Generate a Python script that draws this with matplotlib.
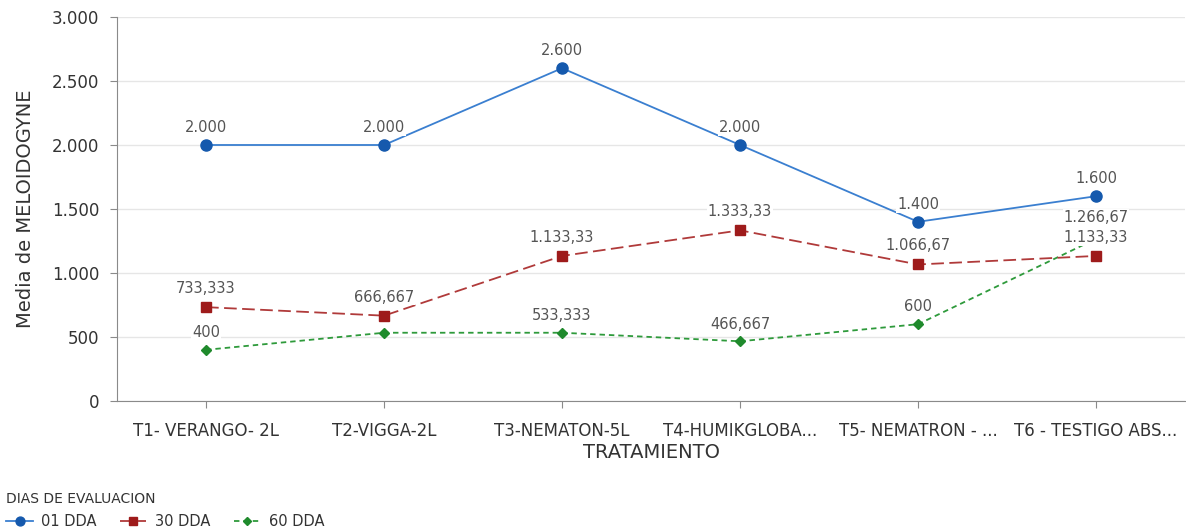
import matplotlib.pyplot as plt
import numpy as np

# chart data
categories = ["T1- VERANGO- 2L", "T2-VIGGA-2L", "T3-NEMATON-5L",
              "T4-HUMIKGLOBA...", "T5- NEMATRON - ...", "T6 - TESTIGO ABS..."]
dda01 = [2000, 2000, 2600, 2000, 1400, 1600]
dda30 = [733.333, 666.667, 1133.33, 1333.33, 1066.67, 1133.33]
dda60 = [400, 533.333, 533.333, 466.667, 600, 1266.67]
series_names = ["01 DDA", "30 DDA", "60 DDA"]
y_ticks = [0, 500, 1000, 1500, 2000, 2500, 3000]

# which labels power bi kept (the others were hidden by overlaps)
show60 = [True, False, True, True, True, True]


def fmt(v):
    # spanish number format: . thousands, , decimals
    s = f"{v:,.6g}"
    return s.replace(",", "X").replace(".", ",").replace("X", ".")


fig = plt.figure(figsize=(11.86, 5.31), dpi=100)
ax = fig.add_axes([0.0987, 0.2448, 0.9005, 0.7232])

x = np.arange(len(categories))

ax.plot(x, dda60, color="#2e9a3b", lw=1.3, ls=(0, (3, 2.2)), marker="D", ms=5,
        mfc="#1f8a2c", mec="#1f8a2c", label=series_names[2], zorder=3)
ax.plot(x, dda30, color="#b03a3a", lw=1.3, ls=(0, (7, 3)), marker="s", ms=7.5,
        mfc="#9e1b1b", mec="#9e1b1b", label=series_names[1], zorder=4)
ax.plot(x, dda01, color="#3a7fd0", lw=1.3, marker="o", ms=8,
        mfc="#1559ad", mec="#1559ad", label=series_names[0], zorder=5)

lbl = dict(ha="center", va="bottom", fontsize=10.5, color="#555555", zorder=6,
           bbox=dict(facecolor="white", edgecolor="none", pad=0.6))
for i, v in enumerate(dda01):
    ax.annotate(fmt(v), (i, v), xytext=(0, 7), textcoords="offset points", **lbl)
for i, v in enumerate(dda30):
    ax.annotate(fmt(v), (i, v), xytext=(0, 8), textcoords="offset points", **lbl)
for i, v in enumerate(dda60):
    if show60[i]:
        off = 7 if i < 5 else 10
        ax.annotate(fmt(v), (i, v), xytext=(0, off), textcoords="offset points", **lbl)

ax.set_xlim(-0.5, len(categories) - 0.5)
ax.set_ylim(0, 3000)
ax.set_xticks(x)
ax.set_xticklabels(categories, fontsize=12, color="#333333")
ax.set_yticks(y_ticks)
ax.set_yticklabels([fmt(t) for t in y_ticks], fontsize=12, color="#333333")
ax.grid(axis="y", color="#e6e6e6", lw=1)
ax.set_axisbelow(True)
for s in ["top", "right"]:
    ax.spines[s].set_visible(False)
for s in ["left", "bottom"]:
    ax.spines[s].set_color("#8a8a8a")
ax.tick_params(axis="both", color="#8a8a8a", length=5, pad=8)
ax.tick_params(axis="x", pad=10)

ax.set_ylabel("Media de MELOIDOGYNE", fontsize=14, color="#333333", labelpad=12)
ax.set_xlabel("TRATAMIENTO", fontsize=14, color="#333333", labelpad=2)

h, l = ax.get_legend_handles_labels()
leg = fig.legend(h[::-1], l[::-1], title="DIAS DE EVALUACION", loc="lower left",
                 bbox_to_anchor=(-0.002, -0.012), ncol=3, frameon=False,
                 fontsize=10.5, title_fontsize=10, handlelength=1.8,
                 columnspacing=1.6, handletextpad=0.6, borderaxespad=0.2,
                 markerscale=0.8)
leg._legend_box.align = "left"
for t in leg.get_texts():
    t.set_color("#333333")
leg.get_title().set_color("#333333")

fig.savefig("out.png", dpi=100)
